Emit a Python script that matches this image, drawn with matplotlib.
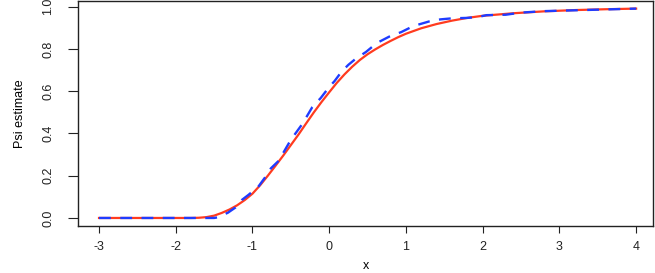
import matplotlib
matplotlib.use("Agg")
import matplotlib.pyplot as plt

plt.rcParams['font.family'] = ['Liberation Sans Narrow', 'DejaVu Sans Condensed', 'Liberation Sans', 'DejaVu Sans']

# true Psi (solid red)
x_true = [-3.0, -1.8, -1.7, -1.6, -1.5, -1.4, -1.3, -1.2, -1.1, -1.0, -0.9, -0.8,
          -0.7, -0.6, -0.5, -0.4, -0.3, -0.2, -0.1, 0.0, 0.1, 0.2, 0.3, 0.4,
          0.5, 0.6, 0.7, 0.8, 0.9, 1.0, 1.2, 1.4, 1.6, 1.8, 2.0, 2.4, 2.8,
          3.2, 3.6, 4.0]
psi_true = [0.0, 0.0, 0.001, 0.004, 0.011, 0.024, 0.040, 0.060, 0.085, 0.115, 0.155, 0.200,
            0.247, 0.295, 0.345, 0.395, 0.448, 0.500, 0.549, 0.595, 0.640, 0.680, 0.716, 0.748,
            0.775, 0.798, 0.819, 0.838, 0.856, 0.872, 0.898, 0.918, 0.934, 0.947, 0.957, 0.969, 0.978,
            0.984, 0.988, 0.991]

# estimate (dashed blue)
x_est = [-3.0, -1.5, -1.45, -1.38, -1.32, -1.22, -1.14, -1.05, -0.92, -0.82, -0.76,
         -0.66, -0.58, -0.50, -0.42, -0.35, -0.22, -0.11, 0.0, 0.07, 0.16, 0.25,
         0.34, 0.48, 0.62, 0.78, 0.94, 1.05, 1.14, 1.30, 1.45, 1.60, 1.80, 1.95,
         2.05, 2.30, 2.50, 2.80, 3.10, 3.40, 3.70, 4.0]
psi_est = [0.0, 0.0, 0.003, 0.015, 0.025, 0.050, 0.085, 0.110, 0.150, 0.200, 0.235,
           0.270, 0.320, 0.370, 0.410, 0.445, 0.525, 0.568, 0.620, 0.648, 0.692, 0.725,
           0.752, 0.786, 0.828, 0.858, 0.880, 0.900, 0.913, 0.930, 0.940, 0.945, 0.947, 0.952,
           0.960, 0.962, 0.972, 0.979, 0.982, 0.985, 0.988, 0.991]

xticks = [-3, -2, -1, 0, 1, 2, 3, 4]
yticks = [0.0, 0.2, 0.4, 0.6, 0.8, 1.0]

fig = plt.figure(figsize=(6.55, 2.73), dpi=100)
ax = fig.add_axes([78 / 655, 47 / 273, 575 / 655, 225 / 273])

ax.plot(x_true, psi_true, color='#ff3b1f', lw=1.6)
ax.plot(x_est, psi_est, color='#1f3cff', lw=1.7, dashes=(5, 4))

ax.set_xlim(-3.274, 4.22)
ax.set_ylim(-0.038, 1.027)
ax.set_xticks(xticks)
ax.set_xticklabels([str(t) for t in xticks])
ax.set_yticks(yticks)
ax.set_yticklabels([f"{t:.1f}" for t in yticks], rotation=90, va='center')
ax.tick_params(axis='x', length=5, width=0.8, pad=6, labelsize=9, colors='#222222')
ax.tick_params(axis='y', length=7, width=0.8, pad=10, labelsize=9, colors='#222222')
for s in ax.spines.values():
    s.set_linewidth(1.0)
    s.set_color('#222222')

ax.set_xlabel("x", fontsize=9, labelpad=5)
ax.set_ylabel("Psi estimate", fontsize=9, labelpad=12)

fig.savefig("out.png", dpi=100)
